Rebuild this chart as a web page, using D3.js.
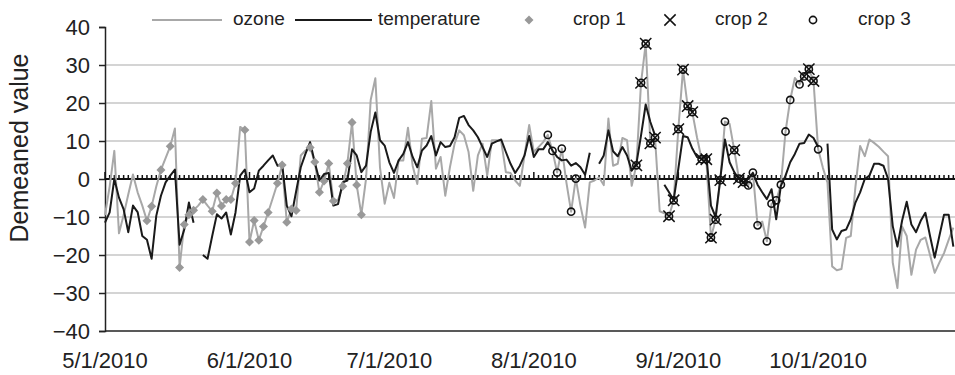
<!DOCTYPE html>
<html>
<head>
<meta charset="utf-8">
<script src="https://cdn.jsdelivr.net/npm/d3@7"></script>
<style>
  body { margin: 0; background: #fff; }
  svg { display: block; font-family: "Liberation Sans", Arial, sans-serif; }
</style>
</head>
<body>
<svg id="chart" width="955" height="375"></svg>
<script>
// daily demeaned values, 5/1/2010 onward (null = missing day)
var ozone = [-9.5,-2,7.4,-14.3,-9.5,-4,1.2,-3.5,-7,-11,
  -7.2,-2,2.4,5.5,8.6,13.3,-23.3,-12,-9.4,-8.2,
  -7,-5.4,-7,-8.5,-3.7,-7.1,-5.4,-5.4,-1.1,13.7,
  12.9,-16.6,-10.9,-16.1,-12.5,-8.8,-5,-1.1,3.7,-11.4,
  -7.9,-8.3,6.2,7.5,8.3,4.5,-3.5,-0.5,4.1,-5.8,
  -5.5,-1.9,4.1,14.9,-1.6,-9.4,0,20.8,26.5,3,
  -6.5,-1,-5,4.9,4.9,13.5,3.5,-1.3,10.6,10.8,
  20.5,2.7,5.8,-4.4,3.1,9.3,12.8,11.5,7.1,-3.1,
  6.2,9.3,0.9,10.2,10.2,10,1.8,1.6,-0.4,-1.8,
  6.2,14.2,7.1,8.4,9.7,11.6,7.4,1.7,8,-1,
  -8.6,0.1,-7,-12.8,-0.9,-0.4,0.4,-1.6,15.9,3.5,
  4,10.8,10.2,-1.8,3.6,25.3,35.6,9.4,10.9,-8.5,
  -9,-9.8,-5.6,13.1,28.8,19.2,17.6,11,5.2,5.2,
  -15.4,-10.7,-0.3,15.1,14.5,7.6,0.1,-0.8,-1.7,1.7,
  -12.2,-11.2,-16.4,-6.5,-5.6,-1.5,12.5,20.8,26.6,24.9,
  27,28.9,25.8,7.8,3,-1,-23,-24,-23.7,-15.5,
  -15,-2,8.7,6,10.4,9.5,8.5,7.2,6,-22,
  -28.7,-12.5,-15,-25.2,-18.6,-16,-15.4,-20,-24.7,-22,
  -19.5,-16,-12.8];

var temperature = [-11.5,-8.8,0,-4.9,-8,-14,-7,-8.7,-15,-16,
  -21,-9.7,-4.4,-0.9,0.9,2.5,-17.3,-13.3,-6.2,-11.5,
  null,-20,-21,-15,-9.3,-10.4,-8.8,-14.6,-8.8,0.9,
  2.5,-3.5,-2.5,2.2,3.5,4.9,6.2,3.5,4,-7,
  -9.8,-3.3,3.1,6.6,9.7,4.4,-0.4,1.3,1.6,-7,
  -6.6,-0.9,-0.4,7.8,6.2,1.8,3.5,12.4,17.5,10.2,
  8.8,4.4,1.6,4.9,6.6,9.7,5.8,3.1,7.5,8.8,
  11.3,6.2,9.7,8.4,8.7,11,16.1,16.6,14.2,12.8,
  11,8.4,5.8,9.3,9.9,10.4,7.1,4,1.6,3.5,
  6.2,11.3,5.8,7.8,7.8,9.7,7.5,5.8,4.9,5.1,
  3.5,4.2,3.1,1.1,6.9,null,4,6.2,12.8,7.3,
  6,8.4,6.2,2.2,4,11.5,19.6,15,11.5,null,
  -1.5,-3.5,-5.5,2.7,11.3,11,8,5.8,5.3,6.4,
  -7,-10,0,10.4,4.4,1.8,0,-0.9,0,1.6,
  -1.5,-3.5,-5.3,-2.7,-10.6,-1.8,0.9,4.4,6.6,9.3,
  9.5,11.7,10.8,8.4,null,9.3,-13.3,-15.9,-13.7,-13.3,
  -10.6,-6.2,-3.5,0,0.9,4,4,3.5,0,-12.4,
  -17.8,-11,-6,-12,-14,-11,-8.9,-15,-20.7,-15,
  -9.4,-9.4,-17.8];

// crop sampling days (index from 5/1/2010) and their ozone values
var crop1Days = [9,10,12,14,16,17,18,19,21,23,24,25,26,27,28,30,31,32,33,34,35,37,38,39,40,41,44,45,46,47,48,49,51,52,53,54,55];
var crop1Vals = [-11,-7.2,2.4,8.6,-23.3,-12,-9.4,-8.2,-5.4,-8.5,-3.7,-7.1,-5.4,-5.4,-1.1,12.9,-16.6,-10.9,-16.1,-12.5,-8.8,-1.1,3.7,-11.4,-7.9,-8.3,8.3,4.5,-3.5,-0.5,4.1,-5.8,-1.9,4.1,14.9,-1.6,-9.4];

var crop2Days = [114,115,116,117,118,121,122,123,124,125,126,128,129,130,131,132,135,136,137,150,151,152];
var crop2Vals = [3.6,25.3,35.6,9.4,10.9,-9.8,-5.6,13.1,28.8,19.2,17.6,5.2,5.2,-15.4,-10.7,-0.3,7.6,0.1,-0.8,27,28.9,25.8];

var crop3Days = [95,96,97,98,100,101,114,115,116,117,118,121,122,123,124,125,126,128,129,130,131,132,133,135,136,137,138,139,140,142,143,144,145,146,147,149,150,151,152,153];
var crop3Vals = [11.6,7.4,1.7,8,-8.6,0.1,3.6,25.3,35.6,9.4,10.9,-9.8,-5.6,13.1,28.8,19.2,17.6,5.2,5.2,-15.4,-10.7,-0.3,15.1,7.6,0.1,-0.8,-1.7,1.7,-12.2,-16.4,-6.5,-5.6,-1.5,12.5,20.8,24.9,27,28.9,25.8,7.8];

var monthTicks = ["5/1/2010","6/1/2010","7/1/2010","8/1/2010","9/1/2010","10/1/2010"];
var yTicks = [-40,-30,-20,-10,0,10,20,30,40];

var start = new Date(2010, 4, 1);
var day = function(i) { return d3.timeDay.offset(start, i); };
var parse = d3.timeParse("%m/%d/%Y");

var svg = d3.select("#chart");
var x = d3.scaleTime().domain([start, new Date(2010, 9, 31)]).range([105, 958]);
var y = d3.scaleLinear().domain([-40, 40]).range([331, 27]);
var left = 105, right = 955;

// gridlines
svg.append("g").selectAll("line")
  .data(yTicks.filter(function(v){ return v != 0 && v > -40 && v < 40; }))
  .enter().append("line")
  .attr("x1", left).attr("x2", right)
  .attr("y1", function(v){ return y(v); }).attr("y2", function(v){ return y(v); })
  .attr("stroke", "#c6c6c6").attr("stroke-width", 1.5);

// bottom border line
svg.append("line").attr("x1", left).attr("x2", right)
  .attr("y1", y(-40)).attr("y2", y(-40))
  .attr("stroke", "#222").attr("stroke-width", 1.5);

// y axis
var yAxis = d3.axisLeft(y).tickValues(yTicks).tickSize(6).tickPadding(9)
  .tickFormat(function(v){ return v < 0 ? "\u2212" + Math.abs(v) : v; });
var ya = svg.append("g").attr("transform", "translate(" + left + ",0)").call(yAxis);
ya.select(".domain").attr("stroke", "#222").attr("stroke-width", 1.5);
ya.selectAll(".tick line").attr("stroke", "#222").attr("stroke-width", 1.5);
ya.selectAll("text").attr("font-size", 22).attr("fill", "#222")
  .attr("font-family", "'Liberation Sans', Arial, sans-serif");

svg.append("text")
  .attr("transform", "translate(28,148) rotate(-90)")
  .attr("text-anchor", "middle").attr("font-size", 25).attr("fill", "#222")
  .text("Demeaned value");

// x labels at month starts
svg.append("g").selectAll("text")
  .data(monthTicks).enter().append("text")
  .attr("x", function(d){ return x(parse(d)); }).attr("y", 368)
  .attr("text-anchor", "middle").attr("font-size", 22).attr("fill", "#222")
  .text(function(d){ return d; });

// zero axis with daily ticks
svg.append("line").attr("x1", left).attr("x2", right)
  .attr("y1", y(0)).attr("y2", y(0))
  .attr("stroke", "#111").attr("stroke-width", 2);
var allDays = ozone.map(function(d, i){ return day(i); });
svg.append("g").selectAll("line")
  .data(allDays).enter().append("line")
  .attr("x1", function(d){ return x(d); }).attr("x2", function(d){ return x(d); })
  .attr("y1", y(0))
  .attr("y2", function(d){ return y(0) - (d.getDate() == 1 ? 7 : 4); })
  .attr("stroke", "#111").attr("stroke-width", 1.5);

// series lines
var line = d3.line()
  .defined(function(d){ return d != null; })
  .x(function(d, i){ return x(day(i)); })
  .y(function(d){ return y(d); });

svg.append("path").datum(ozone)
  .attr("d", line).attr("fill", "none")
  .attr("stroke", "#a8a8a8").attr("stroke-width", 2).attr("stroke-linejoin", "round");
svg.append("path").datum(temperature)
  .attr("d", line).attr("fill", "none")
  .attr("stroke", "#1a1a1a").attr("stroke-width", 2).attr("stroke-linejoin", "round");

var diamond = d3.symbol().type(d3.symbolDiamond2).size(52);
var cross = d3.symbol().type(d3.symbolTimes).size(85);

// crop 1 diamonds
svg.append("g").selectAll("path")
  .data(crop1Days).enter().append("path")
  .attr("d", diamond)
  .attr("transform", function(d, i){ return "translate(" + x(day(d)) + "," + y(crop1Vals[i]) + ")"; })
  .attr("fill", "#999");

// crop 2 crosses
svg.append("g").selectAll("path")
  .data(crop2Days).enter().append("path")
  .attr("d", cross)
  .attr("transform", function(d, i){ return "translate(" + x(day(d)) + "," + y(crop2Vals[i]) + ")"; })
  .attr("fill", "none").attr("stroke", "#111").attr("stroke-width", 1.5);

// crop 3 circles
svg.append("g").selectAll("circle")
  .data(crop3Days).enter().append("circle")
  .attr("cx", function(d){ return x(day(d)); })
  .attr("cy", function(d, i){ return y(crop3Vals[i]); })
  .attr("r", 3.6)
  .attr("fill", "none").attr("stroke", "#111").attr("stroke-width", 1.6);

// legend
var lg = svg.append("g").attr("font-size", 19).attr("fill", "#222");
lg.append("line").attr("x1", 152).attr("x2", 222).attr("y1", 20).attr("y2", 20)
  .attr("stroke", "#a8a8a8").attr("stroke-width", 2);
lg.append("text").attr("x", 233).attr("y", 25).text("ozone");
lg.append("line").attr("x1", 295).attr("x2", 372).attr("y1", 20).attr("y2", 20)
  .attr("stroke", "#1a1a1a").attr("stroke-width", 2);
lg.append("text").attr("x", 378).attr("y", 25).text("temperature");
lg.append("path").attr("d", diamond).attr("transform", "translate(529,20)").attr("fill", "#999");
lg.append("text").attr("x", 573).attr("y", 25).text("crop 1");
lg.append("path").attr("d", cross).attr("transform", "translate(670,20)")
  .attr("fill", "none").attr("stroke", "#111").attr("stroke-width", 1.5);
lg.append("text").attr("x", 715).attr("y", 25).text("crop 2");
lg.append("circle").attr("cx", 813).attr("cy", 20).attr("r", 3.6)
  .attr("fill", "none").attr("stroke", "#111").attr("stroke-width", 1.6);
lg.append("text").attr("x", 858).attr("y", 25).text("crop 3");
</script>
</body>
</html>
